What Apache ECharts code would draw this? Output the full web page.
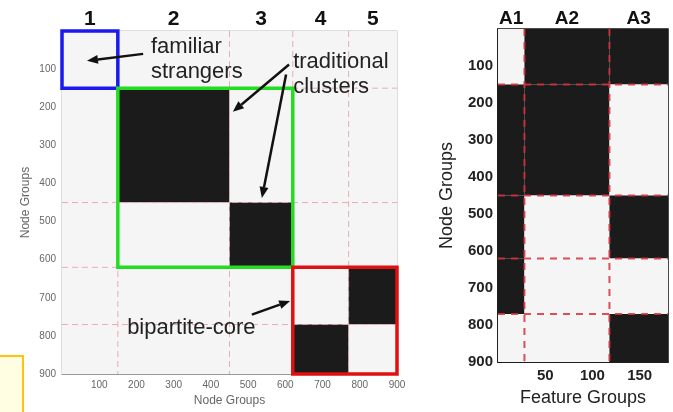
<!DOCTYPE html>
<html>
<head>
<meta charset="utf-8">
<script src="https://cdn.jsdelivr.net/npm/echarts@6/dist/echarts.min.js"></script>
<style>
html,body{margin:0;padding:0;background:#fff;}
#c{width:673px;height:412px;}
</style>
</head>
<body>
<div id="c"></div>
<script>
// ---- data ----
const nodeBounds = [0, 150, 450, 620, 770, 900];          // node group boundaries
const featureBounds = [0, 28, 118, 180];                  // feature group boundaries
const nodeGroupLabels = ['1', '2', '3', '4', '5'];
const featureGroupLabels = ['A1', 'A2', 'A3'];
// node-node block adjacency (1 = dense / black)
const nodeNodeMatrix = [
  [0, 0, 0, 0, 0],
  [0, 1, 0, 0, 0],
  [0, 0, 1, 0, 0],
  [0, 0, 0, 0, 1],
  [0, 0, 0, 1, 0]
];
// node-feature block matrix
const nodeFeatureMatrix = [
  [0, 1, 1],
  [1, 1, 0],
  [1, 0, 1],
  [1, 0, 0],
  [0, 0, 1]
];
// highlighted node-group ranges: [firstGroup, lastGroup]
const highlightGroups = [[0, 0], [1, 2], [3, 4]];
const highlightNames = ['familiar strangers', 'traditional clusters', 'bipartite-core'];
// annotations (data coordinates on the left matrix, text block centre-left)
const annotationTexts = [
  {text: 'familiar\nstrangers', x: 239, y: 75},
  {text: 'traditional\nclusters', x: 621, y: 115},
  {text: 'bipartite-core', x: 175, y: 780}
];
const annotationArrows = [
  {from: [218, 60], to: [67, 78]},
  {from: [610, 88], to: [459, 212]},
  {from: [602, 114], to: [537, 438]},
  {from: [510, 744], to: [613, 708]}
];

// ---- styles ----
const DARK = '#1b1b1b';
const LIGHT = '#f5f5f5';
const BOX_COLORS = ['#1a1aee', '#22dd22', '#e01010'];
const FONT = 'Liberation Sans, Arial, sans-serif';

// ---- build series data ----
function cellData(rowBounds, colBounds, matrix) {
  const out = [];
  for (let r = 0; r < matrix.length; r++)
    for (let c = 0; c < matrix[r].length; c++)
      out.push([colBounds[c], colBounds[c + 1], rowBounds[r], rowBounds[r + 1], matrix[r][c]]);
  return out;
}
function lineData(rowBounds, colBounds) {
  const out = [];
  const xMax = colBounds[colBounds.length - 1], yMax = rowBounds[rowBounds.length - 1];
  colBounds.slice(1, -1).forEach(b => out.push([b, 0, b, yMax]));
  rowBounds.slice(1, -1).forEach(b => out.push([0, b, xMax, b]));
  return out;
}
const leftCells = cellData(nodeBounds, nodeBounds, nodeNodeMatrix);
const rightCells = cellData(nodeBounds, featureBounds, nodeFeatureMatrix);
const leftLines = lineData(nodeBounds, nodeBounds);
const rightLines = lineData(nodeBounds, featureBounds);
const boxData = highlightGroups.map((g, i) =>
  [nodeBounds[g[0]], nodeBounds[g[1] + 1], nodeBounds[g[0]], nodeBounds[g[1] + 1], i]);

function renderCell(params, api) {
  const p0 = api.coord([api.value(0), api.value(2)]);
  const p1 = api.coord([api.value(1), api.value(3)]);
  return {
    type: 'rect',
    shape: {x: p0[0], y: p0[1], width: p1[0] - p0[0], height: p1[1] - p0[1]},
    style: {fill: api.value(4) ? DARK : LIGHT}
  };
}
function makeLineRenderer(color, width, dash) {
  return function (params, api) {
    const p0 = api.coord([api.value(0), api.value(1)]);
    const p1 = api.coord([api.value(2), api.value(3)]);
    return {
      type: 'line',
      shape: {x1: p0[0], y1: p0[1], x2: p1[0], y2: p1[1]},
      style: {stroke: color, lineWidth: width, lineDash: dash, opacity: 0.85}
    };
  };
}
function renderBox(params, api) {
  const p0 = api.coord([api.value(0), api.value(2)]);
  const p1 = api.coord([api.value(1), api.value(3)]);
  return {
    type: 'rect',
    shape: {x: p0[0], y: p0[1], width: p1[0] - p0[0], height: p1[1] - p0[1]},
    style: {fill: 'none', stroke: BOX_COLORS[api.value(4)], lineWidth: 3.5}
  };
}

const chart = echarts.init(document.getElementById('c'), null, {renderer: 'canvas'});

const leftAxisLabel = {color: '#666', fontSize: 10, fontFamily: FONT, showMinLabel: false, margin: 6};
const rightXLabel = {color: '#222', fontSize: 15, fontWeight: 'bold', fontFamily: FONT, showMinLabel: false, showMaxLabel: false, margin: 6};
const rightYLabel = {color: '#222', fontSize: 15, fontWeight: 'bold', fontFamily: FONT, showMinLabel: false, margin: 5};

const option = {
  animation: false,
  backgroundColor: '#ffffff',
  grid: [
    {left: 62, top: 31, width: 335, height: 347, show: true, borderColor: '#bbb', borderWidth: 1, backgroundColor: LIGHT},
    {left: 498, top: 29, width: 170, height: 339, show: true, borderColor: '#111', borderWidth: 1.5, backgroundColor: LIGHT}
  ],
  xAxis: [
    {type: 'value', gridIndex: 0, min: 0, max: 900, interval: 100, position: 'bottom',
      name: 'Node Groups', nameLocation: 'middle', nameGap: 19,
      nameTextStyle: {color: '#666', fontSize: 12, fontFamily: FONT},
      axisLine: {show: true, onZero: false, lineStyle: {color: '#999'}}, axisTick: {inside: true, length: 3, lineStyle: {color: '#999'}},
      axisLabel: leftAxisLabel, splitLine: {show: false}},
    {type: 'value', gridIndex: 1, min: 0, max: 180, interval: 50, position: 'bottom',
      name: 'Feature Groups', nameLocation: 'middle', nameGap: 27,
      nameTextStyle: {color: '#222', fontSize: 18, fontFamily: FONT},
      axisLine: {show: true, onZero: false, lineStyle: {color: '#111', width: 1.5}}, axisTick: {inside: true, length: 4, lineStyle: {color: '#111'}},
      axisLabel: rightXLabel, splitLine: {show: false}}
  ],
  yAxis: [
    {type: 'value', gridIndex: 0, min: 0, max: 900, interval: 100, inverse: true,
      name: 'Node Groups', nameLocation: 'middle', nameGap: 30, nameRotate: 90,
      nameTextStyle: {color: '#666', fontSize: 12, fontFamily: FONT},
      axisLine: {show: true, onZero: false, lineStyle: {color: '#999'}}, axisTick: {inside: true, length: 3, lineStyle: {color: '#999'}},
      axisLabel: leftAxisLabel, splitLine: {show: false}},
    {type: 'value', gridIndex: 1, min: 0, max: 900, interval: 100, inverse: true,
      name: 'Node Groups', nameLocation: 'middle', nameGap: 42, nameRotate: 90,
      nameTextStyle: {color: '#222', fontSize: 18, fontFamily: FONT},
      axisLine: {show: true, onZero: false, lineStyle: {color: '#111', width: 1.5}}, axisTick: {inside: true, length: 4, lineStyle: {color: '#111'}},
      axisLabel: rightYLabel, splitLine: {show: false}}
  ],
  series: [
    {type: 'custom', name: 'node-node', xAxisIndex: 0, yAxisIndex: 0, data: leftCells,
      encode: {x: [0, 1], y: [2, 3]}, renderItem: renderCell, silent: true, z: 1},
    {type: 'custom', name: 'node-guides', xAxisIndex: 0, yAxisIndex: 0, data: leftLines,
      encode: {x: [0, 2], y: [1, 3]}, renderItem: makeLineRenderer('#e8a0a8', 1, [6, 4]), silent: true, z: 2},
    {type: 'custom', name: 'highlights', xAxisIndex: 0, yAxisIndex: 0, data: boxData,
      encode: {x: [0, 1], y: [2, 3]}, renderItem: renderBox, silent: true, z: 3, clip: false},
    {type: 'custom', name: 'node-feature', xAxisIndex: 1, yAxisIndex: 1, data: rightCells,
      encode: {x: [0, 1], y: [2, 3]}, renderItem: renderCell, silent: true, z: 1},
    {type: 'custom', name: 'feature-guides', xAxisIndex: 1, yAxisIndex: 1, data: rightLines,
      encode: {x: [0, 2], y: [1, 3]}, renderItem: makeLineRenderer('#d8303c', 2, [7, 6]), silent: true, z: 2}
  ]
};
chart.setOption(option);

// ---- annotations placed through the axes' scales ----
const graphics = [];
function px(gridIndex, pt) { return chart.convertToPixel({gridIndex: gridIndex}, pt); }

// group header labels
nodeGroupLabels.forEach((t, i) => {
  const p = px(0, [(nodeBounds[i] + nodeBounds[i + 1]) / 2, 0]);
  graphics.push({type: 'text', x: p[0], y: 19, z: 10,
    style: {text: t, fill: '#111', font: 'bold 21px ' + FONT, textAlign: 'center', textVerticalAlign: 'middle'}});
});
featureGroupLabels.forEach((t, i) => {
  const p = px(1, [(featureBounds[i] + featureBounds[i + 1]) / 2, 0]);
  graphics.push({type: 'text', x: p[0], y: 19, z: 10,
    style: {text: t, fill: '#111', font: 'bold 19px ' + FONT, textAlign: 'center', textVerticalAlign: 'middle'}});
});
// annotation texts
annotationTexts.forEach(a => {
  const p = px(0, [a.x, a.y]);
  graphics.push({type: 'text', x: p[0], y: p[1], z: 10,
    style: {text: a.text, fill: '#222', font: '22px ' + FONT, lineHeight: 25, textAlign: 'left', textVerticalAlign: 'middle'}});
});
// arrows
annotationArrows.forEach(a => {
  const p0 = px(0, a.from), p1 = px(0, a.to);
  const ang = Math.atan2(p1[1] - p0[1], p1[0] - p0[0]);
  const L = 11, W = 4.5;
  const bx = p1[0] - L * Math.cos(ang), by = p1[1] - L * Math.sin(ang);
  graphics.push({type: 'line', z: 10, shape: {x1: p0[0], y1: p0[1], x2: bx, y2: by},
    style: {stroke: '#111', lineWidth: 2.5}});
  graphics.push({type: 'polygon', z: 10, shape: {points: [
    [p1[0], p1[1]],
    [bx + W * Math.sin(ang), by - W * Math.cos(ang)],
    [bx - W * Math.sin(ang), by + W * Math.cos(ang)]
  ]}, style: {fill: '#111'}});
});
// slide artifact box bottom-left
graphics.push({type: 'rect', z: 10, shape: {x: -3, y: 356, width: 26, height: 70},
  style: {fill: '#fffde2', stroke: '#ffc20e', lineWidth: 2}});

chart.setOption({graphic: graphics});
</script>
</body>
</html>
